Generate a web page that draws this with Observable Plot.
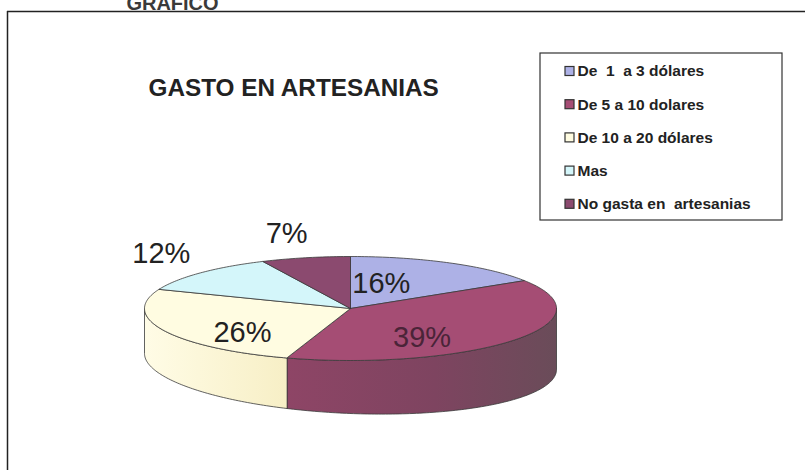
<!DOCTYPE html>
<html><head><meta charset="utf-8">
<script src="https://cdn.jsdelivr.net/npm/d3@7"></script>
<script src="https://cdn.jsdelivr.net/npm/@observablehq/plot@0.6"></script>
<style>
body{margin:0;background:#fff}
#chart{width:805px;height:470px;overflow:hidden}
svg text{white-space:pre}
</style>
</head><body><div id="chart"></div>
<script>
// ---- data ----
const header = "GRAFICO";
const title = "GASTO EN ARTESANIAS";
const categories = ["De  1  a 3 dólares", "De 5 a 10 dolares", "De 10 a 20 dólares", "Mas", "No gasta en  artesanias"];
const values = [16, 39, 26, 12, 7];
const valueLabels = ["16%", "39%", "26%", "12%", "7%"];

// ---- styles / layout ----
const topColors = ["#ADB1E6", "#A54D74", "#FFFCE1", "#D4F6FA", "#8B4A6F"];
const sideColors = ["#8F93C8", "url(#side1)", "url(#side2)", "#B5DCE0", "#6E3A58"];
const labelColors = ["#222", "#4a2438", "#222", "#222", "#222"];
const labelFx = [0.31, 0.44, 0.58, 1.26, 1.42];
const labelFy = [0.55, 0.93, 1.11, 1.55, 1.47];

const W = 805, H = 470;
const cx = 350, cy = 308, rx = 206, ry = 52;
const depth = x => 53 + 8 * (x - cx) / rx;
const font = "Liberation Sans, Arial, sans-serif";

const total = d3.sum(values);
const pt = (t, f = 1) => [cx + rx * f * Math.sin(t), cy - ry * f * Math.cos(t)];
const arc = (a0, a1) => {
  const n = Math.max(2, Math.ceil(Math.abs(a1 - a0) / (Math.PI / 180)));
  return d3.range(n + 1).map(k => pt(a0 + (a1 - a0) * k / n));
};

const tops = [], sides = [], labels = [];
let cum = 0;
values.forEach((v, i) => {
  const a0 = cum / total * 2 * Math.PI;
  cum += v;
  const a1 = cum / total * 2 * Math.PI;
  // top face
  [[cx, cy], ...arc(a0, a1), [cx, cy]].forEach(([x, y]) => tops.push({key: i, x, y, fill: topColors[i]}));
  // visible side (front half)
  const s0 = Math.max(a0, Math.PI / 2), s1 = Math.min(a1, 3 * Math.PI / 2);
  if (s1 > s0) {
    const up = arc(s0, s1);
    const down = up.slice().reverse().map(([x, y]) => [x, y + depth(x)]);
    [...up, ...down].forEach(([x, y]) => sides.push({key: i, x, y, fill: sideColors[i]}));
  }
  const m = (a0 + a1) / 2;
  labels.push({
    text: valueLabels[i],
    x: cx + rx * labelFx[i] * Math.sin(m),
    y: cy - ry * labelFy[i] * Math.cos(m),
    color: labelColors[i]
  });
});

const legend = categories.map((c, i) => ({c, i, y: 71 + i * 33.2, fill: topColors[i]}));

const plot = Plot.plot({
  width: W, height: H,
  margin: 0,
  x: {domain: [0, W], range: [0, W], axis: null},
  y: {domain: [0, H], range: [0, H], axis: null},
  color: {type: "identity"},
  marks: [
    // outer frame (left and top edges)
    Plot.ruleX([7], {y1: 11, y2: H, stroke: "#222", strokeWidth: 1.5}),
    Plot.ruleY([11], {x1: 7, x2: W, stroke: "#222", strokeWidth: 1.5}),
    Plot.text([header], {x: 172, y: 9, text: d => d, lineAnchor: "bottom", fontSize: 20, fontWeight: "bold", fontFamily: font, fill: "#3a3a3a"}),
    Plot.text([title], {x: 148, y: 95, text: d => d, lineAnchor: "bottom", textAnchor: "start", fontSize: 24.3, fontWeight: "bold", fontFamily: font, fill: "#222"}),
    // pie sides then tops
    Plot.line(sides, {x: "x", y: "y", z: "key", fill: "fill", stroke: "#3a3a3a", strokeWidth: 0.8, curve: "linear-closed"}),
    Plot.line(tops, {x: "x", y: "y", z: "key", fill: "fill", stroke: "#3a3a3a", strokeWidth: 0.8, curve: "linear-closed"}),
    Plot.text(labels, {x: "x", y: "y", text: "text", fill: "color", fontSize: 29, fontFamily: font}),
    // legend
    Plot.rect([0], {x1: 540, x2: 782, y1: 53, y2: 220, fill: "white", stroke: "#333", strokeWidth: 1.2}),
    Plot.rect(legend, {x1: 565, x2: 574, y1: d => d.y - 4.5, y2: d => d.y + 4.5, fill: "fill", stroke: "#333", strokeWidth: 1.2}),
    Plot.text(legend, {x: 577, y: "y", text: "c", textAnchor: "start", fontSize: 15.5, fontWeight: "bold", fontFamily: font, fill: "#222"})
  ]
});

const defs = d3.select(plot).insert("defs", ":first-child");
const g1 = defs.append("linearGradient").attr("id", "side1").attr("x1", 0).attr("x2", 1).attr("y1", 0).attr("y2", 0);
g1.append("stop").attr("offset", "0%").attr("stop-color", "#8E4566");
g1.append("stop").attr("offset", "55%").attr("stop-color", "#7E4460");
g1.append("stop").attr("offset", "100%").attr("stop-color", "#6A4C59");
const g2 = defs.append("linearGradient").attr("id", "side2").attr("x1", 0).attr("x2", 1).attr("y1", 0).attr("y2", 0);
g2.append("stop").attr("offset", "0%").attr("stop-color", "#FFFCE6");
g2.append("stop").attr("offset", "100%").attr("stop-color", "#F7EFC6");

document.getElementById("chart").appendChild(plot);
</script>
</body></html>
